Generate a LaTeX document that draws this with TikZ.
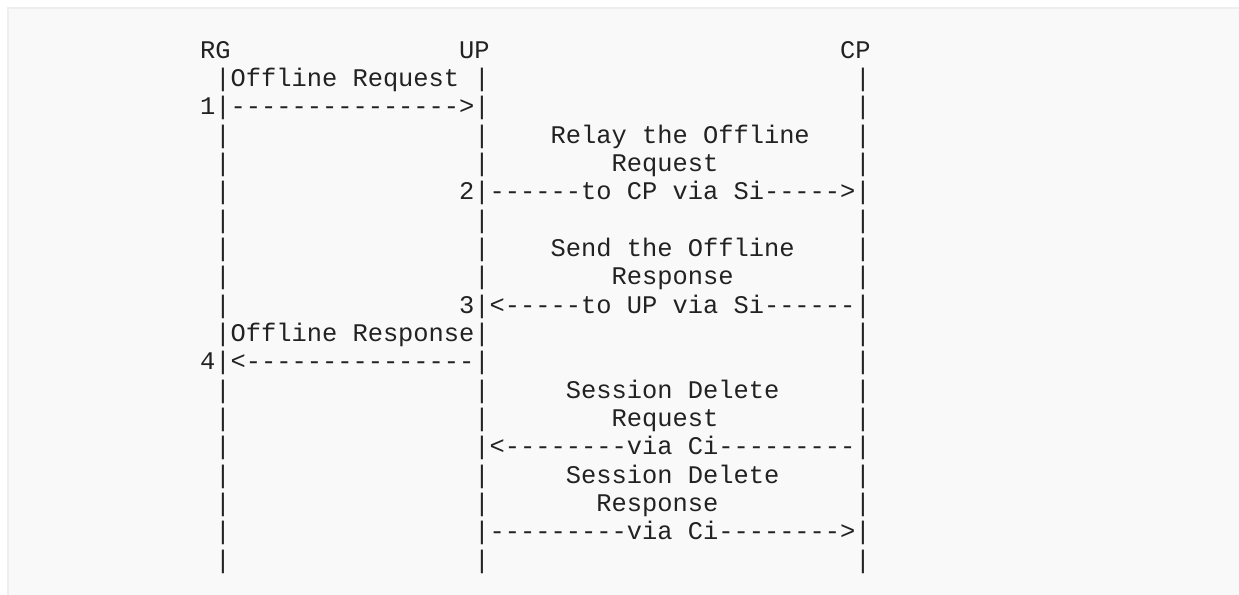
\documentclass[tikz,border=0pt]{standalone}
\usepackage{fontspec}
\setmonofont{Liberation Mono}
\definecolor{pregray}{HTML}{F9F9F9}
\definecolor{preedge}{HTML}{EEEEEE}
\definecolor{ink}{HTML}{222222}
\tikzset{ascii/.style={anchor=base west,inner sep=0pt,text=ink,
  font=\ttfamily\fontsize{19.05pt}{21pt}\selectfont}}
\begin{document}
\begin{tikzpicture}[x=0.75pt,y=-0.75pt]
\useasboundingbox (0,0) rectangle (1239,595);
\filldraw[fill=pregray,draw=preedge,line width=1.5pt] (8,8) rectangle (1260,620);

\begin{scope}[shift={(215.1,58.3)},x=11.43pt,y=-21.2475pt]
% participants
\node[ascii] (rg) at (-1,0) {RG};
\node[ascii] (up) at (16,0) {UP};
\node[ascii] (cp) at (41,0) {CP};

% lifelines
\foreach \r in {1,...,18}
  \foreach \c in {0,17,42}
    \node[ascii] (bar-\r-\c) at (\c,\r) {|};

% Offline Request
\node[ascii] (req) at (1,1) {Offline Request};
\node[ascii] (n1) at (-1,2) {1};
\node[ascii] (m1) at (1,2) {--------------->};

% relay to CP
\node[ascii] (relay) at (22,3) {Relay the Offline};
\node[ascii] (relay2) at (26,4) {Request};
\node[ascii] (n2) at (16,5) {2};
\node[ascii] (m2) at (18,5) {------to CP via Si----->};

% response from CP
\node[ascii] (send) at (22,7) {Send the Offline};
\node[ascii] (send2) at (26,8) {Response};
\node[ascii] (n3) at (16,9) {3};
\node[ascii] (m3) at (18,9) {<-----to UP via Si------};

% Offline Response
\node[ascii] (resp) at (1,10) {Offline Response};
\node[ascii] (n4) at (-1,11) {4};
\node[ascii] (m4) at (1,11) {<---------------};

% session delete
\node[ascii] (sdreq) at (23,12) {Session Delete};
\node[ascii] (sdreq2) at (26,13) {Request};
\node[ascii] (m5) at (18,14) {<--------via Ci---------};
\node[ascii] (sdresp) at (23,15) {Session Delete};
\node[ascii] (sdresp2) at (25,16) {Response};
\node[ascii] (m6) at (18,17) {---------via Ci-------->};
\end{scope}
\end{tikzpicture}
\end{document}
